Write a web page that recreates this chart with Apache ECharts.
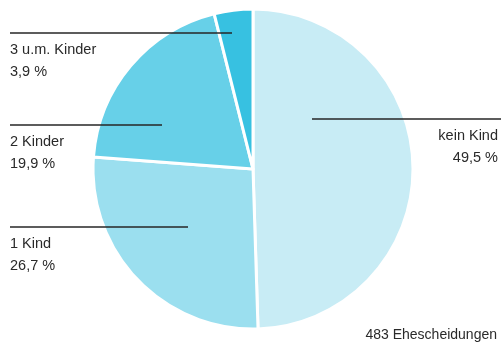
<!DOCTYPE html>
<html>
<head>
<meta charset="utf-8">
<script src="https://cdn.jsdelivr.net/npm/echarts@6/dist/echarts.min.js"></script>
<style>
  html, body { margin: 0; padding: 0; background: #fff; }
  #chart { width: 501px; height: 342px; }
</style>
</head>
<body>
<div id="chart"></div>
<script>
// Ehescheidungen nach Zahl der Kinder
const categories = ['kein Kind', '1 Kind', '2 Kinder', '3 u.m. Kinder'];
const shares = [49.5, 26.7, 19.9, 3.9];
const total = '483 Ehescheidungen';

const colors = ['#c8ecf5', '#9bdfef', '#67d0e8', '#37c1e1'];
const FONT = '"Liberation Sans", Arial, sans-serif';

// label anchor and leader line for each slice: [textX, textY, align, lineY, lineFromX, lineToX]
const labelSpots = [
  [498, 125, 'right', 119, 312, 501],
  [10, 233, 'left', 227, 188, 10],
  [10, 131, 'left', 125, 162, 10],
  [10, 39, 'left', 33, 232, 10]
];

const fmt = v => v.toFixed(1).replace('.', ',') + ' %';

const pieBase = {
  type: 'pie',
  center: [253, 169],
  radius: [0, 160],
  startAngle: 90,
  clockwise: true,
  emphasis: { disabled: true },
  silent: true
};

const chart = echarts.init(document.getElementById('chart'), null, { renderer: 'canvas' });

chart.setOption({
  animation: false,
  title: {
    text: total,
    right: 4,
    bottom: 0,
    padding: 0,
    textStyle: { fontFamily: FONT, fontSize: 14, fontWeight: 'normal', color: '#2a2a2a' }
  },
  series: [
    // the slices
    Object.assign({}, pieBase, {
      z: 2,
      data: categories.map((name, i) => ({
        name,
        value: shares[i],
        itemStyle: { color: colors[i] }
      })),
      itemStyle: { borderColor: '#fff', borderWidth: 3 },
      label: { show: false },
      labelLine: { show: false }
    }),
    // same slices, transparent, carrying the labels and leader lines on top
    Object.assign({}, pieBase, {
      z: 5,
      data: categories.map((name, i) => ({ name, value: shares[i] })),
      itemStyle: { color: 'rgba(0,0,0,0)', borderWidth: 0 },
      label: {
        show: true,
        formatter: p => p.name + '\n' + fmt(p.value),
        fontFamily: FONT,
        fontSize: 14.5,
        lineHeight: 22,
        color: '#2a2a2a',
        overflow: 'none'
      },
      labelLine: {
        show: true,
        showAbove: true,
        lineStyle: { color: '#262626', width: 1.4 }
      },
      labelLayout: params => {
        const s = labelSpots[params.dataIndex];
        return {
          x: s[0],
          y: s[1],
          align: s[2],
          verticalAlign: 'top',
          width: 200,
          labelLinePoints: [[s[4], s[3]], [(s[4] + s[5]) / 2, s[3]], [s[5], s[3]]]
        };
      }
    })
  ]
});
</script>
</body>
</html>
